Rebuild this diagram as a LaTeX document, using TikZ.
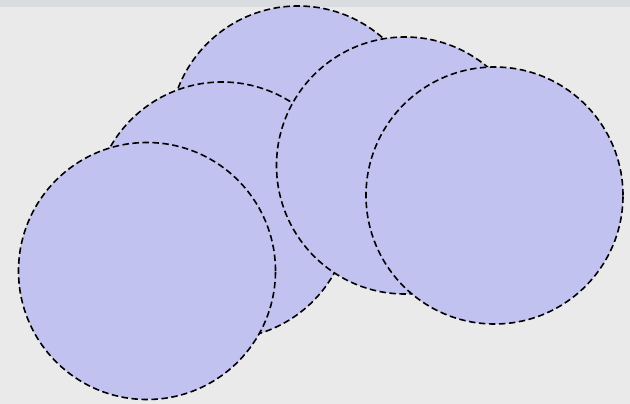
\documentclass[tikz,border=0pt]{standalone}
\usepackage{xcolor}
\usepackage{tikz}
\usetikzlibrary{positioning}
\definecolor{BlobFill}{RGB}{194,194,240}
\definecolor{PageGray}{RGB}{234,234,234}
\definecolor{BarGray}{RGB}{218,221,224}

\tikzset{
  blob/.style={circle, draw=black, fill=BlobFill, line width=1.6pt,
    dash pattern=on 6.5pt off 3.5pt, minimum size=257pt, inner sep=0pt, outer sep=0pt}
}

\begin{document}
\begin{tikzpicture}[x=1pt,y=-1pt]
    \useasboundingbox (0,0) rectangle (630,404);
    \fill[PageGray] (0,0) rectangle (630,404);
    \fill[BarGray] (0,0) rectangle (630,7);
    \foreach \name/\cx/\cy in {top/298/134.5,mid/222/210.5,low/147/271,right/405/165.5,far/494.5/195.5} {
      \node[blob] (\name) at (\cx,\cy) {};
    }
  \end{tikzpicture}
\end{document}
